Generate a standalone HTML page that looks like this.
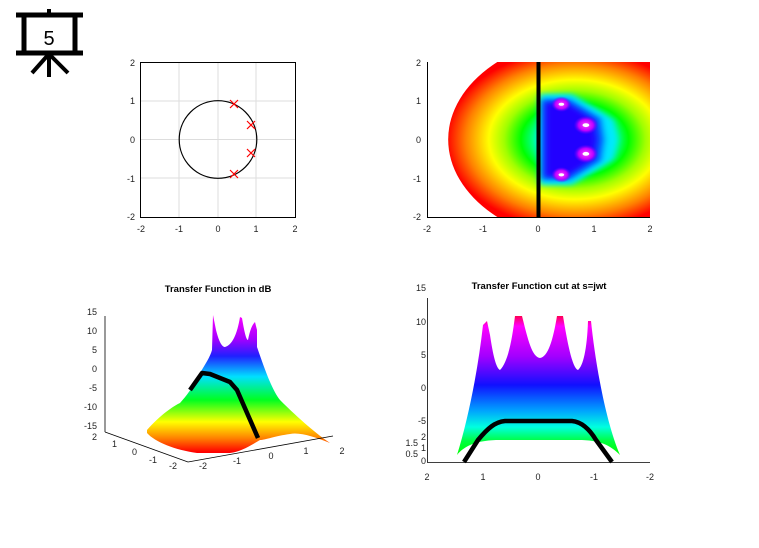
<!DOCTYPE html>
<html><head><meta charset="utf-8"><style>
html,body{margin:0;padding:0;background:#fff;}
svg{display:block;font-family:"Liberation Sans",sans-serif;}
</style></head><body>
<svg width="759" height="548" viewBox="0 0 759 548" xmlns="http://www.w3.org/2000/svg">
<defs>
<radialGradient id="rg" gradientUnits="userSpaceOnUse" cx="0.65" cy="0" r="2.3">
<stop offset="0" stop-color="#00ffff"/>
<stop offset="0.25" stop-color="#00ffff"/>
<stop offset="0.33" stop-color="#00ff80"/>
<stop offset="0.42" stop-color="#00ff00"/>
<stop offset="0.55" stop-color="#a0ff00"/>
<stop offset="0.67" stop-color="#ffff00"/>
<stop offset="0.85" stop-color="#ff8000"/>
<stop offset="1" stop-color="#ff0000"/>
</radialGradient>
<linearGradient id="lg1" x1="0" y1="315" x2="0" y2="452" gradientUnits="userSpaceOnUse">
<stop offset="0" stop-color="#ff00ff"/>
<stop offset="0.18" stop-color="#a000ff"/>
<stop offset="0.3" stop-color="#2020ff"/>
<stop offset="0.45" stop-color="#00e0ff"/>
<stop offset="0.62" stop-color="#00ff20"/>
<stop offset="0.78" stop-color="#ffff00"/>
<stop offset="0.9" stop-color="#ff8000"/>
<stop offset="1" stop-color="#ff0000"/>
</linearGradient>
<linearGradient id="lg2" x1="0" y1="315" x2="0" y2="455" gradientUnits="userSpaceOnUse">
<stop offset="0" stop-color="#ff0040"/>
<stop offset="0.08" stop-color="#ff00ff"/>
<stop offset="0.3" stop-color="#a000ff"/>
<stop offset="0.5" stop-color="#1010ff"/>
<stop offset="0.68" stop-color="#00a0ff"/>
<stop offset="0.8" stop-color="#00ffe0"/>
<stop offset="0.9" stop-color="#00ff40"/>
<stop offset="1" stop-color="#00ff00"/>
</linearGradient>
<radialGradient id="pole"><stop offset="0" stop-color="#ff40ff"/><stop offset="0.6" stop-color="#c000ff"/><stop offset="1" stop-color="#6000ff" stop-opacity="0"/></radialGradient>
<filter id="bl" x="-20%" y="-20%" width="140%" height="140%"><feGaussianBlur stdDeviation="0.06"/></filter>
<clipPath id="cp"><rect x="427" y="62" width="223" height="155"/></clipPath>
</defs>

<!-- icon -->
<g stroke="#000" fill="none">
<line x1="16" y1="15" x2="83" y2="15" stroke-width="5"/>
<line x1="16" y1="53" x2="83" y2="53" stroke-width="5"/>
<rect x="24" y="15" width="51" height="38" stroke-width="5"/>
<line x1="49" y1="9" x2="49" y2="15" stroke-width="4"/>
<line x1="49" y1="53" x2="49" y2="77" stroke-width="4"/>
<line x1="48" y1="55" x2="32" y2="73" stroke-width="4"/>
<line x1="50" y1="55" x2="68" y2="73" stroke-width="4"/>
</g>
<text x="49" y="45" font-size="20" text-anchor="middle" font-family="Liberation Sans,sans-serif">5</text>

<!-- plot 1 -->
<g stroke="#ddd" stroke-width="1">
<line x1="179" y1="62" x2="179" y2="217"/><line x1="218" y1="62" x2="218" y2="217"/><line x1="256" y1="62" x2="256" y2="217"/>
<line x1="140" y1="101" x2="295" y2="101"/><line x1="140" y1="139.5" x2="295" y2="139.5"/><line x1="140" y1="178" x2="295" y2="178"/>
</g>
<rect x="140.5" y="62.5" width="155" height="155" fill="none" stroke="#000"/>
<circle cx="218" cy="139.5" r="38.8" fill="none" stroke="#000" stroke-width="1.2"/>
<g stroke="#f00" stroke-width="1.2">
<path d="M230 100l8 8M238 100l-8 8"/><path d="M247 121l8 8M255 121l-8 8"/>
<path d="M247 149l8 8M255 149l-8 8"/><path d="M230 170l8 8M238 170l-8 8"/>
</g>
<g font-size="9" fill="#222" text-anchor="end">
<text x="135" y="66">2</text><text x="135" y="104">1</text><text x="135" y="143">0</text><text x="135" y="182">-1</text><text x="135" y="220">-2</text>
</g>
<g font-size="9" fill="#222" text-anchor="middle">
<text x="141" y="232">-2</text><text x="179" y="232">-1</text><text x="218" y="232">0</text><text x="256" y="232">1</text><text x="295" y="232">2</text>
</g>

<!-- plot 2 -->
<g clip-path="url(#cp)">
<g transform="translate(538.5,139.5) scale(55.75,-38.75)">
<ellipse cx="1.09" cy="0" rx="2.71" ry="2.71" fill="url(#rg)"/>
<path d="M0.02 1.18 L0.6 1.18 L1.35 0.5 L1.42 0 L1.35 -0.5 L0.6 -1.18 L0.02 -1.18 Z" fill="#00e8ff" filter="url(#bl)"/>
<path d="M0.05 1.05 L0.55 1.05 L1.12 0.55 L1.18 0 L1.12 -0.55 L0.55 -1.05 L0.05 -1.05 Z" fill="#0060ff" filter="url(#bl)"/>
<path d="M0.12 0.95 L0.5 0.95 L1.0 0.5 L1.05 0 L1.0 -0.5 L0.5 -0.95 L0.12 -0.95 Z" fill="#2000ff" filter="url(#bl)"/>
<g fill="url(#pole)">
<ellipse cx="0.41" cy="0.91" rx="0.18" ry="0.2"/><ellipse cx="0.41" cy="-0.91" rx="0.18" ry="0.2"/>
<ellipse cx="0.85" cy="0.37" rx="0.22" ry="0.24"/><ellipse cx="0.85" cy="-0.37" rx="0.22" ry="0.24"/>
</g>
<g fill="#fff">
<ellipse cx="0.41" cy="0.91" rx="0.05" ry="0.04"/><ellipse cx="0.41" cy="-0.91" rx="0.05" ry="0.04"/>
<ellipse cx="0.85" cy="0.37" rx="0.06" ry="0.05"/><ellipse cx="0.85" cy="-0.37" rx="0.06" ry="0.05"/>
</g>
</g>
</g>
<line x1="538.5" y1="62" x2="538.5" y2="217" stroke="#000" stroke-width="4"/>
<path d="M427.5 62V217.5H650" fill="none" stroke="#000"/>
<g font-size="9" fill="#222" text-anchor="end">
<text x="421" y="66">2</text><text x="421" y="104">1</text><text x="421" y="143">0</text><text x="421" y="182">-1</text><text x="421" y="220">-2</text>
</g>
<g font-size="9" fill="#222" text-anchor="middle">
<text x="427" y="232">-2</text><text x="483" y="232">-1</text><text x="538" y="232">0</text><text x="594" y="232">1</text><text x="650" y="232">2</text>
</g>

<!-- plot 3 -->
<text x="218" y="292" font-size="9.5" font-weight="bold" text-anchor="middle">Transfer Function in dB</text>
<path d="M147 430 C160 415 175 405 180 403 C190 392 197 380 200 373 C206 363 210 357 212 350 L213 315 L216 330 C219 342 222 347 225 347 C232 345 237 335 240 317 L242 318 C244 330 246 340 248 340 C250 330 252 325 255 322 L257 330 L257 347 C265 370 272 390 280 400 C300 420 318 435 330 443 C315 437 300 432 290 434 C275 436 265 440 260 440 C250 446 240 452 230 453 L197 453 C175 450 155 442 147 433 Z" fill="url(#lg1)"/>
<path d="M190 390 L202 373 L210 374 L230 382 L237 390 L258 438" fill="none" stroke="#000" stroke-width="4.5" stroke-linejoin="round"/>
<g stroke="#000" fill="none" stroke-width="0.8">
<line x1="105" y1="316" x2="105" y2="432"/>
<line x1="105" y1="432" x2="188" y2="462"/>
<line x1="188" y1="462" x2="333" y2="436"/>
</g>
<g font-size="9" fill="#222" text-anchor="end">
<text x="97" y="315">15</text><text x="97" y="334">10</text><text x="97" y="353">5</text><text x="97" y="372">0</text><text x="97" y="391">-5</text><text x="97" y="410">-10</text><text x="97" y="429">-15</text>
<text x="97" y="440">2</text><text x="117" y="447">1</text><text x="137" y="455">0</text><text x="157" y="463">-1</text><text x="177" y="469">-2</text>
</g>
<g font-size="9" fill="#222" text-anchor="middle">
<text x="203" y="469">-2</text><text x="237" y="464">-1</text><text x="271" y="459">0</text><text x="306" y="454">1</text><text x="342" y="454">2</text>
</g>

<!-- plot 4 -->
<text x="539" y="289" font-size="9.5" font-weight="bold" text-anchor="middle">Transfer Function cut at s=jwt</text>
<path d="M457 455 C468 420 478 370 483 325 L487 321 L490 335 C493 355 496 368 500 370 C508 362 512 340 515 316 L522 316 C528 340 532 357 540 358 C548 357 553 340 557 316 L563 316 C567 340 572 368 578 370 C583 366 587 350 588 321 L591 321 C595 360 605 420 620 455 C610 445 600 440 578 440 L500 440 C478 440 465 445 457 455 Z" fill="url(#lg2)"/>
<path d="M464 462 L478 440 C488 428 495 422 505 421 L572 421 C582 422 590 430 596 440 L612 462" fill="none" stroke="#000" stroke-width="4.5" stroke-linejoin="round"/>
<path d="M427.5 298V462.5H650" fill="none" stroke="#000" stroke-width="0.8"/>
<g font-size="9" fill="#222" text-anchor="end">
<text x="426" y="291">15</text><text x="426" y="325">10</text><text x="426" y="358">5</text><text x="426" y="391">0</text><text x="426" y="424">-5</text>
<text x="426" y="440">2</text><text x="418" y="446">1.5</text><text x="426" y="451">1</text><text x="418" y="457">0.5</text><text x="426" y="464">0</text>
</g>
<g font-size="9" fill="#222" text-anchor="middle">
<text x="427" y="480">2</text><text x="483" y="480">1</text><text x="538" y="480">0</text><text x="594" y="480">-1</text><text x="650" y="480">-2</text>
</g>
</svg>
</body></html>
